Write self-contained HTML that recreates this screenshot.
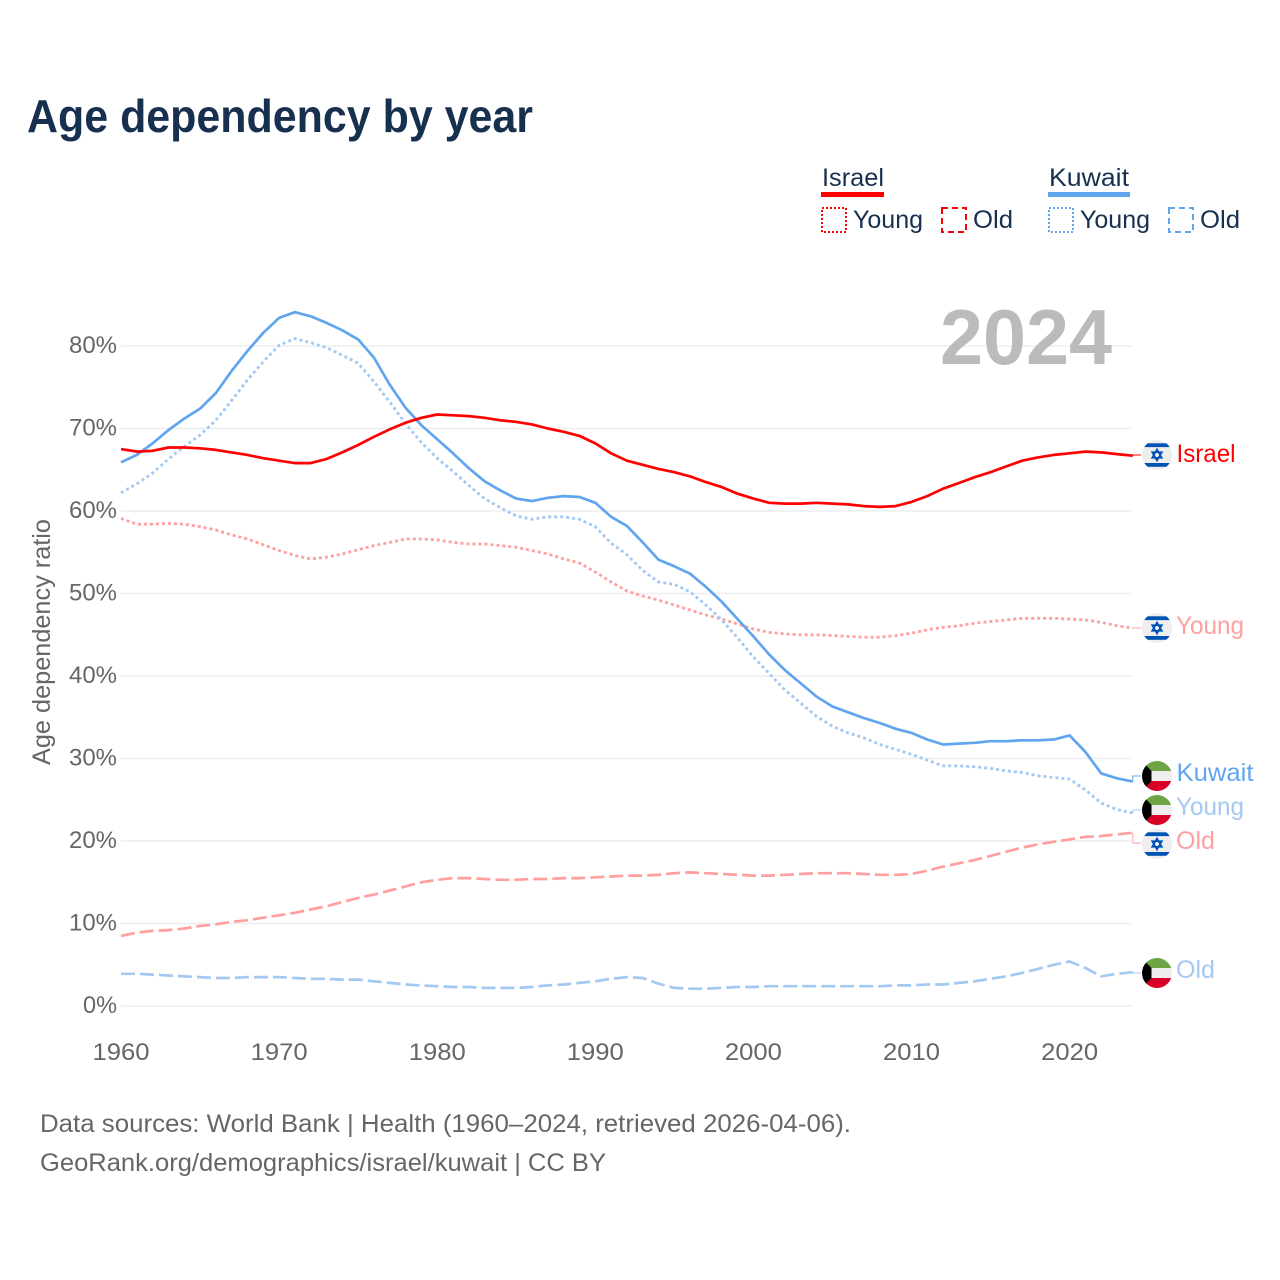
<!DOCTYPE html>
<html lang="en">
<head>
<meta charset="utf-8">
<title>Age dependency by year</title>
<style>
  html, body { margin: 0; padding: 0; background: #fff; }
  svg { display: block; font-family: "Liberation Sans", sans-serif; }
  .tick { fill: #666; font-size: 24px; }
  .leg { fill: #17304f; font-size: 25px; }
  .foot { fill: #666; font-size: 25px; }
  .end { font-size: 25px; }
</style>
</head>
<body>
<svg id="chart" width="1280" height="1280" viewBox="0 0 1280 1280" xmlns="http://www.w3.org/2000/svg">
  <defs>
    <clipPath id="flag-clip"><circle cx="0" cy="0" r="15"/></clipPath>
    <g id="flag-il">
      <g clip-path="url(#flag-clip)">
        <rect x="-15" y="-15" width="30" height="30" fill="#eeeeee"/>
        <rect x="-15" y="-11.7" width="30" height="3.8" fill="#0052b4"/>
        <rect x="-15" y="8" width="30" height="3.8" fill="#0052b4"/>
        <polygon points="0,-5.5 4.8,2.8 -4.8,2.8" fill="none" stroke="#0052b4" stroke-width="1.7"/>
        <polygon points="0,5.5 4.8,-2.8 -4.8,-2.8" fill="none" stroke="#0052b4" stroke-width="1.7"/>
      </g>
    </g>
    <g id="flag-kw">
      <g clip-path="url(#flag-clip)">
        <rect x="-15" y="-15" width="30" height="10" fill="#6da544"/>
        <rect x="-15" y="-5" width="30" height="10" fill="#eeeeee"/>
        <rect x="-15" y="5" width="30" height="10" fill="#d80027"/>
        <polygon points="-15,-15 -5.5,-5 -5.5,5 -15,15" fill="#000"/>
      </g>
    </g>
  </defs>

  <text x="27" y="132" font-size="46" font-weight="700" fill="#17304f" textLength="506" lengthAdjust="spacingAndGlyphs">Age dependency by year</text>

  <g>
    <g>
      <text class="leg" x="822" y="186" textLength="62" lengthAdjust="spacingAndGlyphs">Israel</text>
      <rect x="821" y="192" width="63" height="5" fill="#ff0000"/>
      <rect x="822" y="208" width="24" height="24" fill="none" stroke="#ff0000" stroke-width="2" stroke-dasharray="2 2"/>
      <text class="leg" x="853" y="228" textLength="70" lengthAdjust="spacingAndGlyphs">Young</text>
      <rect x="942" y="208" width="24" height="24" fill="none" stroke="#ff0000" stroke-width="2" stroke-dasharray="6 4"/>
      <text class="leg" x="973" y="228" textLength="40" lengthAdjust="spacingAndGlyphs">Old</text>
    </g>
    <g>
      <text class="leg" x="1049" y="186" textLength="80" lengthAdjust="spacingAndGlyphs">Kuwait</text>
      <rect x="1048" y="192" width="82" height="5" fill="#60a5ee"/>
      <rect x="1049" y="208" width="24" height="24" fill="none" stroke="#60a5ee" stroke-width="2" stroke-dasharray="2 2"/>
      <text class="leg" x="1080" y="228" textLength="70" lengthAdjust="spacingAndGlyphs">Young</text>
      <rect x="1169" y="208" width="24" height="24" fill="none" stroke="#60a5ee" stroke-width="2" stroke-dasharray="6 4"/>
      <text class="leg" x="1200" y="228" textLength="40" lengthAdjust="spacingAndGlyphs">Old</text>
    </g>
  </g>

  <g id="grid"></g>

  <text x="940" y="364" font-size="78" font-weight="700" fill="#bbbbbb" textLength="172" lengthAdjust="spacingAndGlyphs">2024</text>

  <g id="y-ticks"></g>
  <g id="x-ticks"></g>
  <text transform="translate(50 642) rotate(-90)" text-anchor="middle" font-size="25" fill="#666" textLength="246" lengthAdjust="spacingAndGlyphs">Age dependency ratio</text>

  <g id="series"></g>

  <g>
    <use href="#flag-il" x="1157" y="455"/>
    <text class="end" x="1176.5" y="462" fill="#ff0000" textLength="59" lengthAdjust="spacingAndGlyphs">Israel</text>
    <use href="#flag-il" x="1157" y="628"/>
    <text class="end" x="1176" y="634" fill="#ff9f9f" textLength="68" lengthAdjust="spacingAndGlyphs">Young</text>
    <use href="#flag-kw" x="1157" y="776"/>
    <text class="end" x="1176.5" y="781" fill="#60a5ee" textLength="77" lengthAdjust="spacingAndGlyphs">Kuwait</text>
    <use href="#flag-kw" x="1157" y="810"/>
    <text class="end" x="1176" y="815" fill="#a3c9f3" textLength="68" lengthAdjust="spacingAndGlyphs">Young</text>
    <use href="#flag-il" x="1157" y="844"/>
    <text class="end" x="1176" y="849" fill="#ff9f9f" textLength="39" lengthAdjust="spacingAndGlyphs">Old</text>
    <use href="#flag-kw" x="1157" y="973"/>
    <text class="end" x="1176" y="978" fill="#a3c9f3" textLength="39" lengthAdjust="spacingAndGlyphs">Old</text>
  </g>

  <text class="foot" x="40" y="1132" textLength="811" lengthAdjust="spacingAndGlyphs">Data sources: World Bank | Health (1960–2024, retrieved 2026-04-06).</text>
  <text class="foot" x="40" y="1171" textLength="566" lengthAdjust="spacingAndGlyphs">GeoRank.org/demographics/israel/kuwait | CC BY</text>
</svg>

<script>
const firstYear = 1960;
const lastYear = 2024;
const xTickLabels = [1960, 1970, 1980, 1990, 2000, 2010, 2020];
const yTickLabels = [0, 10, 20, 30, 40, 50, 60, 70, 80];

const israelTotal = [67.5,67.2,67.3,67.7,67.7,67.6,67.4,67.1,66.8,66.4,66.1,65.8,65.8,66.3,67.1,68.0,69.0,69.9,70.7,71.3,71.7,71.6,71.5,71.3,71.0,70.8,70.5,70.0,69.6,69.1,68.2,67.0,66.1,65.6,65.1,64.7,64.2,63.5,62.9,62.1,61.5,61.0,60.9,60.9,61.0,60.9,60.8,60.6,60.5,60.6,61.1,61.8,62.7,63.4,64.1,64.7,65.4,66.1,66.5,66.8,67.0,67.2,67.1,66.9,66.7];
const israelYoung = [59.1,58.4,58.4,58.5,58.4,58.1,57.7,57.1,56.6,55.9,55.2,54.6,54.2,54.4,54.8,55.3,55.8,56.2,56.6,56.6,56.5,56.2,56.0,56.0,55.8,55.6,55.2,54.8,54.2,53.7,52.6,51.4,50.3,49.7,49.2,48.6,48.0,47.4,46.9,46.3,45.7,45.3,45.1,45.0,45.0,44.9,44.8,44.7,44.7,44.9,45.2,45.6,45.9,46.1,46.4,46.6,46.8,47.0,47.0,47.0,46.9,46.8,46.5,46.1,45.8];
const israelOld = [8.5,8.9,9.1,9.2,9.4,9.7,9.9,10.2,10.4,10.7,11.0,11.3,11.7,12.1,12.6,13.1,13.5,14.0,14.5,15.0,15.3,15.5,15.5,15.4,15.3,15.3,15.4,15.4,15.5,15.5,15.6,15.7,15.8,15.8,15.9,16.1,16.2,16.1,16.0,15.9,15.8,15.8,15.9,16.0,16.1,16.1,16.1,16.0,15.9,15.9,16.0,16.4,16.9,17.3,17.7,18.2,18.7,19.2,19.6,19.9,20.2,20.5,20.6,20.8,21.0];
const kuwaitTotal = [65.9,66.8,68.2,69.8,71.2,72.4,74.3,77.0,79.4,81.6,83.4,84.1,83.6,82.8,81.9,80.8,78.6,75.3,72.5,70.4,68.7,67.0,65.2,63.6,62.5,61.5,61.2,61.6,61.8,61.7,61.0,59.3,58.2,56.2,54.1,53.3,52.4,50.8,49.0,46.9,44.8,42.6,40.7,39.1,37.5,36.3,35.6,34.9,34.3,33.6,33.1,32.3,31.7,31.8,31.9,32.1,32.1,32.2,32.2,32.3,32.8,30.8,28.2,27.6,27.2];
const kuwaitYoung = [62.2,63.3,64.6,66.3,67.8,69.2,71.0,73.4,75.9,78.1,80.1,80.9,80.4,79.8,78.9,77.9,75.7,73.2,70.6,68.3,66.4,64.8,63.1,61.5,60.4,59.4,59.0,59.3,59.3,59.0,58.1,56.1,54.7,52.8,51.4,51.1,50.2,48.6,46.8,44.6,42.3,40.3,38.3,36.7,35.1,33.9,33.1,32.5,31.7,31.1,30.5,29.8,29.1,29.1,29.0,28.8,28.5,28.3,27.9,27.7,27.5,26.2,24.6,23.8,23.4];
const kuwaitOld = [3.9,3.9,3.8,3.7,3.6,3.5,3.4,3.4,3.5,3.5,3.5,3.4,3.3,3.3,3.2,3.2,3.0,2.8,2.6,2.5,2.4,2.3,2.3,2.2,2.2,2.2,2.3,2.5,2.6,2.8,3.0,3.3,3.5,3.4,2.7,2.2,2.1,2.1,2.2,2.3,2.3,2.4,2.4,2.4,2.4,2.4,2.4,2.4,2.4,2.5,2.5,2.6,2.6,2.8,3.0,3.3,3.6,4.0,4.5,5.0,5.4,4.6,3.6,3.9,4.1];

const NS = 'http://www.w3.org/2000/svg';
const plot = { left: 121, right: 1132.8, top: 346, bottom: 1006 };

function xScale(year) {
  return plot.left + (year - firstYear) * (plot.right - plot.left) / (lastYear - firstYear);
}
function yScale(pct) {
  return plot.bottom - pct * (plot.bottom - plot.top) / 80;
}

const gridGroup = document.getElementById('grid');
const yTickGroup = document.getElementById('y-ticks');
const xTickGroup = document.getElementById('x-ticks');
const seriesGroup = document.getElementById('series');

yTickLabels.forEach(function (v) {
  const line = document.createElementNS(NS, 'line');
  
  
  line.setAttribute('x1', plot.left);
  line.setAttribute('x2', plot.right - 1);
  line.setAttribute('y1', yScale(v));
  line.setAttribute('y2', yScale(v));
  line.setAttribute('stroke', '#eeeeee');
  line.setAttribute('stroke-width', '1.6');
  gridGroup.appendChild(line);

  const label = document.createElementNS(NS, 'text');
  
  
  label.setAttribute('class', 'tick');
  label.setAttribute('x', 117);
  label.setAttribute('y', yScale(v) + 7);
  label.setAttribute('text-anchor', 'end');
  label.setAttribute('textLength', v === 0 ? 34 : 48);
  label.setAttribute('lengthAdjust', 'spacingAndGlyphs');
  label.textContent = v + '%';
  yTickGroup.appendChild(label);
});

xTickLabels.forEach(function (y) {
  const label = document.createElementNS(NS, 'text');
  
  
  label.setAttribute('class', 'tick');
  label.setAttribute('x', xScale(y));
  label.setAttribute('y', 1060);
  label.setAttribute('text-anchor', 'middle');
  label.setAttribute('textLength', 57);
  label.setAttribute('lengthAdjust', 'spacingAndGlyphs');
  label.textContent = y;
  xTickGroup.appendChild(label);
});

const seriesList = [
  { key: 'israel-old', values: israelOld, color: '#ff9f9f', dash: '14 5', width: 2.7, flagY: 843 },
  { key: 'kuwait-old', values: kuwaitOld, color: '#a3c9f3', dash: '14 5', width: 2.7, flagY: 973 },
  { key: 'israel-young', values: israelYoung, color: '#ff9f9f', dash: '3 3', width: 2.8, flagY: 628 },
  { key: 'kuwait-young', values: kuwaitYoung, color: '#a3c9f3', dash: '3 3', width: 2.8, flagY: 810 },
  { key: 'kuwait-total', values: kuwaitTotal, color: '#60a5ee', dash: null, width: 2.7, flagY: 776 },
  { key: 'israel-total', values: israelTotal, color: '#ff0000', dash: null, width: 2.7, flagY: 455 }
];

seriesList.forEach(function (s) {
  const pts = s.values.map(function (v, i) {
    return xScale(firstYear + i).toFixed(1) + ',' + yScale(v).toFixed(1);
  }).join(' ');
  const line = document.createElementNS(NS, 'polyline');
  
  
  line.setAttribute('points', pts);
  line.setAttribute('fill', 'none');
  line.setAttribute('stroke', s.color);
  line.setAttribute('stroke-width', s.width);
  line.setAttribute('stroke-linejoin', 'round');
  if (s.dash) {
    line.setAttribute('stroke-dasharray', s.dash);
  }
  seriesGroup.appendChild(line);

  const endX = xScale(lastYear);
  const endY = yScale(s.values[s.values.length - 1]);
  const link = document.createElementNS(NS, 'polyline');
  
  
  link.setAttribute('points', endX + ',' + endY + ' ' + endX + ',' + s.flagY + ' 1141,' + s.flagY);
  link.setAttribute('fill', 'none');
  link.setAttribute('stroke', s.color);
  link.setAttribute('stroke-width', '1');
  seriesGroup.appendChild(link);
});
</script>
</body>
</html>
